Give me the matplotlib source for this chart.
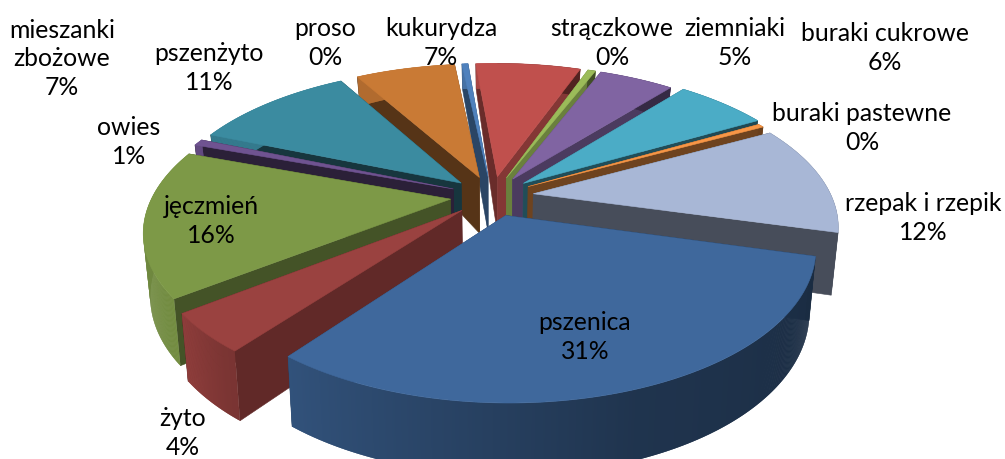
import numpy as np
import matplotlib
matplotlib.use('Agg')
import matplotlib.pyplot as plt

plt.rcParams['font.family'] = ['Lato', 'DejaVu Sans']

# clockwise, starting from pszenica; the "0%" slices are thin but not empty
names = ['pszenica', 'żyto', 'jęczmień', 'owies', 'pszenżyto', 'kukurydza', 'proso',
         'mieszanki\nzbożowe', 'strączkowe', 'ziemniaki', 'buraki cukrowe',
         'buraki pastewne', 'rzepak i rzepik']
values = [31.25, 4.17, 15.8, 0.7, 10.55, 6.55, 0.4, 6.9, 0.5, 4.9, 5.9, 0.4, 11.9]
colors = ['#3F689C', '#9A4240', '#7D9947', '#6F5391', '#3B8BA0', '#C97A35', '#4F81BD',
          '#C0504D', '#9BBB59', '#8064A2', '#4BACC6', '#F79646', '#A8B7D6']
label_xy = [(585, 337), (183, 433), (211, 221), (129, 142), (209, 68), (441, 43), (325, 43),
            (62, 59), (612, 43), (735, 43), (885, 48), (862, 128), (923, 218)]
radius = [0.99, 1, 1, 1, 1, 1, 1, 1, 1, 1, 1.02, 1, 1]

START = 105.0
CX, CY = 492.0, 196.0
RX, RY = 298.0, 143.0
PERSP = 0.2
EXPLODE = 0.14


def project(x, y, low=False):
    w = 1 - PERSP * y
    sx = CX + RX * x / w
    sy = CY + RY * y / w
    if low:
        # the bottom face is further away and the walls are shorter at the back
        sx = CX + (sx - CX) * 0.98
        sy += np.interp(y, [-1.14, 0.0, 1.1], [25, 60, 72])
    return sx, sy


def rim_shade(t):
    return np.interp(t % 360, [100, 160, 220, 232, 270, 360], [0.42, 0.5, 0.8, 0.92, 0.88, 0.88])


def wall_shade(t):
    return np.interp(t % 360, [0, 11, 32, 55, 105, 217, 231, 285, 322, 346, 360],
                     [0.6, 0.72, 0.65, 0.45, 0.42, 0.63, 0.55, 0.38, 0.42, 0.45, 0.6])


def shade(c, f):
    return tuple(v * f for v in matplotlib.colors.to_rgb(c))


def poly(ax, pts, col, z, lw=0.4):
    pts = np.array(pts)
    ax.fill(pts[:, 0], pts[:, 1], color=col, lw=lw, zorder=z)


fig = plt.figure(figsize=(10.05, 4.59), dpi=100)
ax = fig.add_axes([0, 0, 1, 1])
ax.set_xlim(0, 1005)
ax.set_ylim(459, 0)
ax.axis('off')

fracs = np.array(values) / sum(values)
edges = START + 360 * np.concatenate([[0], np.cumsum(fracs)])
mids = (edges[:-1] + edges[1:]) / 2
# paint the slices furthest from the viewer first
order = np.argsort(np.abs(((mids + 180) % 360) - 180))

for n, i in enumerate(order):
    base = 10 + n * 5
    a0, a1 = edges[i], edges[i + 1]
    m = np.radians(mids[i])
    ox, oy = EXPLODE * np.sin(m), -EXPLODE * np.cos(m)
    th = np.radians(np.linspace(a0, a1, max(3, int(a1 - a0) * 4)))
    xs = ox + radius[i] * np.sin(th)
    ys = oy - radius[i] * np.cos(th)

    # the two cut walls, the one further back goes first
    walls = sorted([(ys[0], xs[0], a0), (ys[-1], xs[-1], a1)])
    for y, x, deg in walls:
        poly(ax, [project(ox, oy), project(x, y), project(x, y, True), project(ox, oy, True)],
             shade(colors[i], wall_shade(deg)), base)
    # outer wall, strips overlap the next one so no seams show
    for k in range(len(th) - 1):
        e = min(k + 2, len(th) - 1)
        poly(ax, [project(xs[k], ys[k]), project(xs[e], ys[e]),
                  project(xs[e], ys[e], True), project(xs[k], ys[k], True)],
             shade(colors[i], rim_shade(np.degrees(th[k]))), base + 1, lw=0)
    # top face
    top = [project(ox, oy)] + [project(x, y) for x, y in zip(xs, ys)]
    poly(ax, top, colors[i], base + 2)

for name, v, (x, y) in zip(names, values, label_xy):
    ax.text(x, y, f'{name}\n{v:.0f}%', ha='center', va='center', fontsize=17.8,
            linespacing=1.3, color='black', zorder=200)

fig.savefig('out.png', dpi=100)
